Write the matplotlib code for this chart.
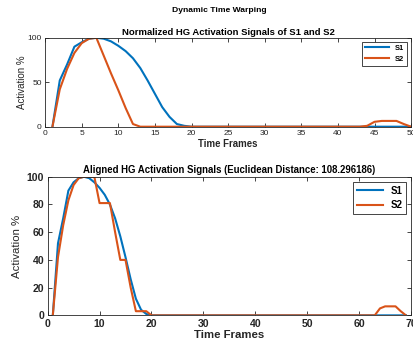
import matplotlib.pyplot as plt
import numpy as np

plt.rcParams['font.family'] = ['Liberation Sans', 'DejaVu Sans']

# original signals (50 frames)
s1 = [0, 52, 70, 90, 95, 99, 100, 99, 96, 91, 85, 77, 66, 52, 37, 22, 11, 3, 1, 0] + [0] * 30
s2 = [0, 42, 65, 83, 94, 99, 100, 80, 60, 41, 21, 3] + [0] * 31 + [1, 5.5, 6.5, 6.5, 6.5, 3, 0]

# aligned signals (69 frames)
s1_aligned = [0, 52, 70, 90, 96, 99, 100, 99, 96, 92, 87, 80, 70, 57, 42, 26, 12, 4, 1, 0] + [0] * 49
s2_aligned = [0, 42, 65, 83, 94, 99, 100, 100, 100, 81, 81, 81, 60, 40, 40, 20, 3, 3, 3] + [0] * 44 + [5, 6.5, 6.5, 6.5, 3, 0]

dist = 108.296186
blue = '#0072BD'
orange = '#D95319'
grey = '#262626'

fig = plt.figure(figsize=(4.14, 3.5), dpi=100)
fig.patch.set_facecolor('white')
fig.text(0.53, 0.969, 'Dynamic Time Warping', ha='center', va='center',
         fontsize=6.1, fontweight='bold', color='black')

def style(ax, fs, bold):
    ax.tick_params(direction='in', length=3, width=0.6, top=True, right=True,
                   labelsize=fs, colors=grey, pad=2.5)
    if bold:
        for lab in ax.get_xticklabels() + ax.get_yticklabels():
            lab.set_fontweight('bold')
    for sp in ax.spines.values():
        sp.set_color(grey)
        sp.set_linewidth(0.6)

# plot1: original signals
ax1 = fig.add_axes([0.109, 0.638, 0.884, 0.254])
t1 = np.arange(1, len(s1) + 1)
ax1.plot(t1, s1, color=blue, lw=1.5, label='S1')
ax1.plot(t1, s2, color=orange, lw=1.5, label='S2')
ax1.set_xlim(0, 50)
ax1.set_ylim(0, 100)
ax1.set_xticks(np.arange(0, 51, 5))
ax1.set_yticks([0, 50, 100])
style(ax1, 6, False)
ax1.set_title('Normalized HG Activation Signals of S1 and S2', fontsize=6.8,
              fontweight='bold', pad=2)
ax1.set_xlabel('Time Frames', fontsize=6.9, fontweight='bold', color=grey, labelpad=1)
ax1.set_ylabel('Activation %', fontsize=7, color=grey, labelpad=0)
leg = ax1.legend(loc='upper right', handlelength=3.2, borderaxespad=0.5,
                 fancybox=False, framealpha=1, edgecolor=grey, prop={'weight': 'bold', 'size': 5.4})
leg.get_frame().set_linewidth(0.6)

# plot2: aligned signals
ax2 = fig.add_axes([0.115, 0.099, 0.878, 0.396])
t2 = np.arange(1, len(s1_aligned) + 1)
ax2.plot(t2, s1_aligned, color=blue, lw=1.5, label='S1')
ax2.plot(t2, s2_aligned, color=orange, lw=1.5, label='S2')
ax2.set_xlim(0, 70)
ax2.set_ylim(0, 100)
ax2.set_xticks(np.arange(0, 71, 10))
ax2.set_yticks(np.arange(0, 101, 20))
style(ax2, 7.6, True)
ax2.set_title('Aligned HG Activation Signals (Euclidean Distance: %.6f)' % dist,
              fontsize=6.9, fontweight='bold', pad=3)
ax2.set_xlabel('Time Frames', fontsize=8.2, fontweight='bold', color=grey, labelpad=1)
ax2.set_ylabel('Activation %', fontsize=8.2, color=grey, labelpad=3)
leg = ax2.legend(loc='upper right', handlelength=2.6, borderaxespad=0.5,
                 fancybox=False, framealpha=1, edgecolor=grey, prop={'weight': 'bold', 'size': 7})
leg.get_frame().set_linewidth(0.6)

fig.savefig('out.png', dpi=100)
